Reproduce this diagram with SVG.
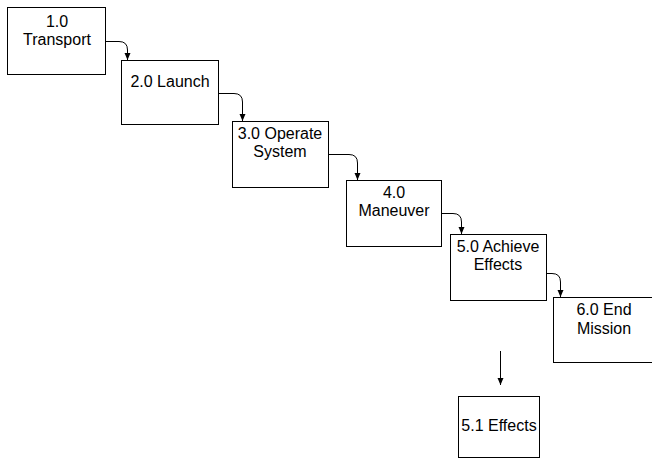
<svg xmlns="http://www.w3.org/2000/svg" width="652" height="459" viewBox="0 0 652 459">
<style>
.box{fill:#fff;stroke:#000;stroke-width:1}
.t{font-family:"Liberation Sans",Arial,sans-serif;font-size:16px;fill:#000;text-anchor:middle}
.c{fill:none;stroke:#000;stroke-width:1;marker-end:url(#ah)}
</style>
<defs>
<marker id="ah" markerWidth="8" markerHeight="8" refX="7" refY="3" orient="auto" markerUnits="userSpaceOnUse">
<path d="M0,0 L7,3 L0,6 Z" fill="#000"/>
</marker>
</defs>
<rect width="652" height="459" fill="#fff"/>
<g id="n1"><rect class="box" x="7.5" y="7.5" width="98" height="67"/><text class="t" x="57" y="27">1.0</text><text class="t" x="57" y="45">Transport</text></g>
<g id="n2"><rect class="box" x="121.5" y="60.5" width="97" height="64"/><text class="t" x="170" y="87">2.0 Launch</text></g>
<g id="n3"><rect class="box" x="232.5" y="121.5" width="96" height="66"/><text class="t" x="280" y="139">3.0 Operate</text><text class="t" x="280" y="157">System</text></g>
<g id="n4"><rect class="box" x="346.5" y="180.5" width="95" height="66"/><text class="t" x="394" y="198">4.0</text><text class="t" x="394" y="216">Maneuver</text></g>
<g id="n5"><rect class="box" x="450.5" y="234.5" width="96" height="66"/><text class="t" x="498" y="252">5.0 Achieve</text><text class="t" x="498" y="270">Effects</text></g>
<g id="n6"><rect class="box" x="553.5" y="297.5" width="102" height="65"/><text class="t" x="604" y="315">6.0 End</text><text class="t" x="604" y="334">Mission</text></g>
<g id="n51"><rect class="box" x="458.5" y="396.5" width="81" height="61"/><text class="t" x="499" y="431">5.1 Effects</text></g>
<g id="connectors">
<path class="c" d="M105.5,41.5 H119 Q127.5,41.5 127.5,50 V60"/>
<path class="c" d="M218.5,93.5 H234 Q242.5,93.5 242.5,102 V121"/>
<path class="c" d="M328.5,154.5 H349 Q357.5,154.5 357.5,163 V180"/>
<path class="c" d="M441.5,213.5 H453 Q461.5,213.5 461.5,222 V234"/>
<path class="c" d="M546.5,273.5 H552 Q560.5,273.5 560.5,282 V297"/>
<path class="c" d="M500.5,351 L500.5,385"/>
</g>
</svg>
